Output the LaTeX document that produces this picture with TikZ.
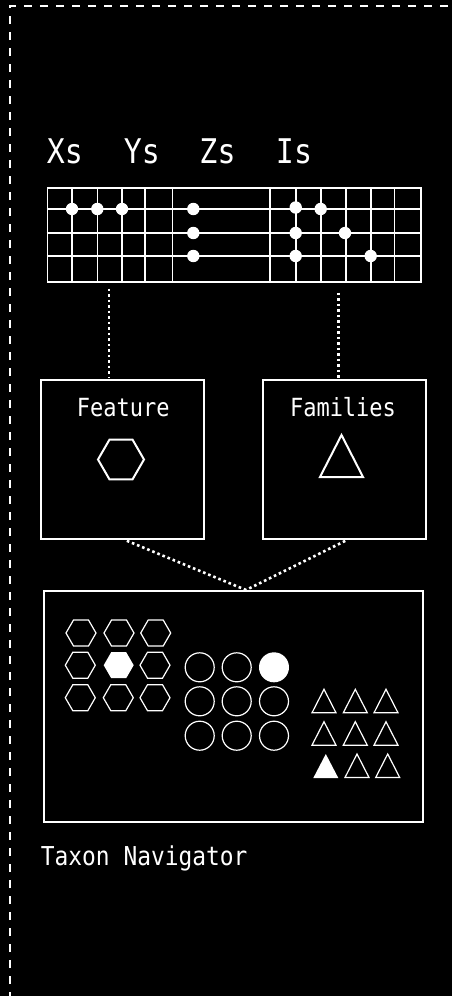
\documentclass[tikz,border=0pt]{standalone}
\usepackage{fontspec}
\newfontfamily\labfont[FakeStretch=0.88]{DejaVu Sans Mono}
\usetikzlibrary{calc}
\begin{document}
\begin{tikzpicture}[x=1pt,y=-1pt,
  frame/.style={draw=white,line width=1.5pt,dash pattern=on 8pt off 8pt,dash phase=4pt},
  boxnode/.style={draw=white,line width=2pt,inner sep=0pt,anchor=north west},
  gridline/.style={white,line width=1.6pt},
  dotline/.style={white,line width=2.6pt,dash pattern=on 2.6pt off 2.9pt},
  thinshape/.style={white,line width=1.2pt},
  thickshape/.style={white,line width=2pt},
  headlab/.style={text=white,inner sep=0pt,anchor=base,font=\labfont\fontsize{34}{40}\selectfont},
  boxlab/.style={text=white,inner sep=0pt,anchor=base,font=\labfont\fontsize{25}{30}\selectfont},
  captlab/.style={text=white,inner sep=0pt,anchor=base,font=\labfont\fontsize{26}{30}\selectfont}]
\useasboundingbox (0,0) rectangle (452,996);
\fill[black] (-2,-2) rectangle (454,998);
% dashed frame
\coordinate (corner) at (10,6);
\coordinate (topend) at (452,6);
\coordinate (leftend) at (10,996);
\draw[frame] (leftend) -- (corner) -- (topend);
\fill[black] (436,12) rectangle (454,998);
% headers
\node[headlab] (hx) at (65,163) {Xs};
\node[headlab] (hy) at (142,163) {Ys};
\node[headlab] (hz) at (217.5,163) {Zs};
\node[headlab] (hi) at (294,163) {Is};
% grid
\node[boxnode,line width=1.6pt,minimum width=373.5pt,minimum height=94pt] (grid) at (46.5,187) {};
\foreach \yy in {209,233,256}
  \draw[gridline] (46.5,\yy) -- (420,\yy);
\foreach \xx in {72,97.3,122,145,172.3,270,295.7,320.7,345.7,370.7,394.3}
  \draw[gridline] (\xx,187) -- (\xx,281);
\foreach \xx/\yy in {72/209,97.3/209,122/209,193.3/209,295.7/207.5,320.7/209,
                     193.3/233,295.7/233,345/233,
                     193.3/256,295.7/256,370.7/256}
  \fill[white] (\xx,\yy) circle (6.2pt);
% side boxes
\node[boxnode,minimum width=163pt,minimum height=159pt] (feature) at (40,379) {};
\node[boxnode,minimum width=162.7pt,minimum height=159pt] (families) at (262.3,379) {};
\node[boxlab] (featlab) at (123.3,416.7) {Feature};
\node[boxlab] (famlab) at (343,416.7) {Families};
\draw[thickshape] (121,459.5) +(0:23) -- +(60:23) -- +(120:23) -- +(180:23) -- +(240:23) -- +(300:23) -- cycle;
\draw[thickshape,line join=miter] (320,477) -- (341.5,435) -- (363,477) -- cycle;
% main box
\node[boxnode,minimum width=379pt,minimum height=231pt] (main) at (43,590) {};
\node[captlab] (capt) at (144.2,865) {Taxon Navigator};
% connectors
\coordinate (lx) at (109,0);
\coordinate (rx) at (338.3,0);
\coordinate (blx) at (125,0);
\coordinate (brx) at (347,0);
\coordinate (mx) at (246,0);
\draw[dotline,shorten <=6pt,shorten >=2pt] (grid.south -| lx) -- (feature.north -| lx);
\draw[dotline,shorten <=10pt,shorten >=1pt] (grid.south -| rx) -- (families.north -| rx);
\draw[dotline,shorten <=2pt] (feature.south -| blx) -- (main.north -| mx);
\draw[dotline,shorten <=2pt] (families.south -| brx) -- (main.north -| mx);
% hexagons
\foreach \xx/\yy in {81/633,119/633,155.7/633,80.3/665.2,155/665.2,80.3/697.7,118.3/697.7,155/697.7}
  \draw[thinshape] (\xx,\yy) +(0:15) -- +(60:15) -- +(120:15) -- +(180:15) -- +(240:15) -- +(300:15) -- cycle;
\fill[white] (118.7,665.2) +(0:15) -- +(60:15) -- +(120:15) -- +(180:15) -- +(240:15) -- +(300:15) -- cycle;
% circles
\foreach \xx/\yy in {199.7/667.3,236.7/667.3,199.7/701.3,236.7/701.3,274/701.3,199.7/735.7,236.7/735.7,274/735.7}
  \draw[thinshape] (\xx,\yy) circle (14.5pt);
\fill[white] (274,667.3) circle (15pt);
% triangles
\foreach \xx/\yy in {324/689.3,355.3/689.3,386/689.3,324/721.7,355.3/721.7,386/721.7,357/754,387.7/754}
  \draw[thinshape] (\xx-12,\yy+23.5) -- (\xx,\yy) -- (\xx+12,\yy+23.5) -- cycle;
\fill[white] (325.8-12.5,754+24) -- (325.8,754) -- (325.8+12.5,754+24) -- cycle;
\end{tikzpicture}
\end{document}
